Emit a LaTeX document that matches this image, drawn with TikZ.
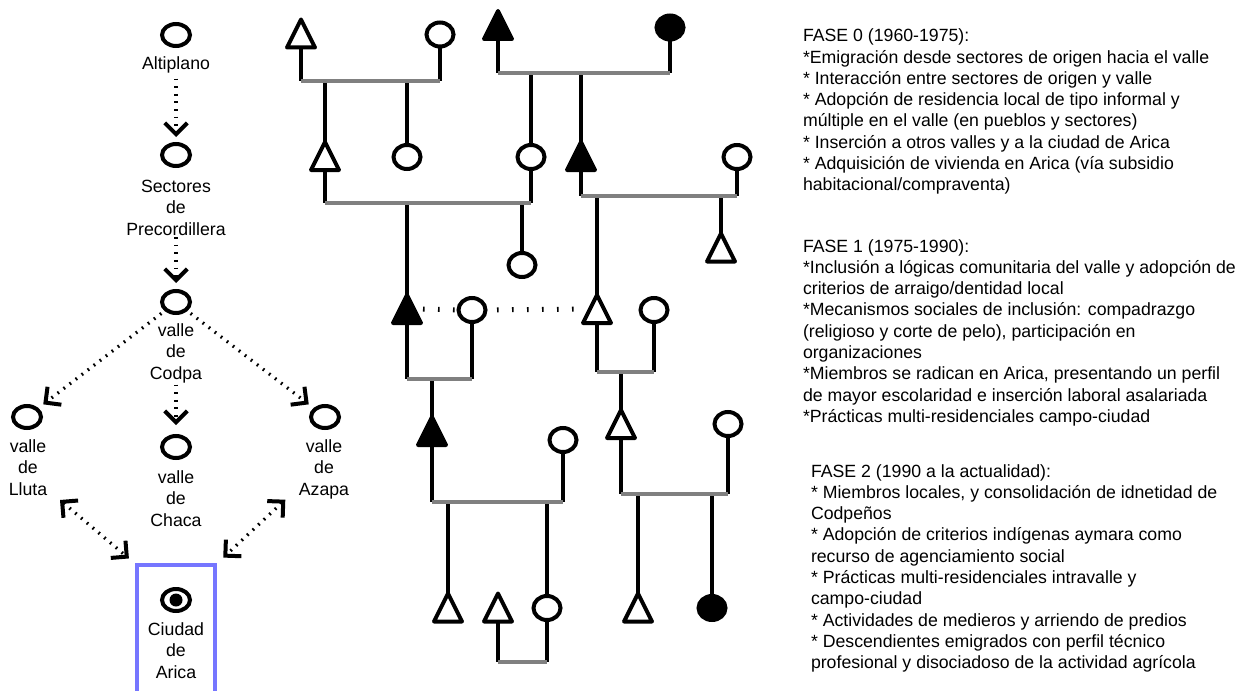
\documentclass[tikz,border=0pt]{standalone}
\usepackage{fontspec}
\setmainfont{Liberation Sans}
\usetikzlibrary{arrows.meta,shapes.geometric}
\definecolor{uniongray}{RGB}{128,128,128}
\definecolor{boxblue}{RGB}{118,118,255}
\begin{document}
\begin{tikzpicture}[x=1pt,y=-1pt,
  every node/.style={inner sep=0pt, outer sep=0pt},
  lbl/.style={font=\fontsize{17.7pt}{21.3pt}\selectfont, align=center},
  txt/.style={font=\fontsize{17.7pt}{21.3pt}\selectfont, align=left},
  place/.style={ellipse, draw, line width=4pt, minimum width=28pt, minimum height=22pt},
  chev/.tip={Straight Barb[angle=90:16pt, line width=4pt 0]},
  flow/.style={line width=3.3pt, dash pattern=on 1.7pt off 5.9pt},
  male/.style={rectangle, minimum width=28pt, minimum height=28pt},
  female/.style={ellipse, draw, fill=white, line width=4pt, minimum width=27pt, minimum height=24pt},
  dead/.style={female, fill=black},
  tri/.style={line width=4pt, line join=round},
  stem/.style={line width=4pt},
  union/.style={line width=3.3pt, draw=uniongray},
  kin/.style={line width=5pt, dash pattern=on 1.6pt off 13.4pt},
]
\useasboundingbox (0,0) rectangle (1246,690);
\clip (0,0) rectangle (1246,690);

% ---------------- places and movements ----------------
\node[place] (alti)  at (176,35)  {};
\node[place] (sect)  at (176,155) {};
\node[place] (codpa) at (176,302) {};
\node[place] (lluta) at (27,417)  {};
\node[place] (chaca) at (176,447) {};
\node[place] (azapa) at (325,417) {};

% multi-line labels are placed by the baseline of their last line
\node[lbl, anchor=base] (altiT)  at (176,70)  {Altiplano};
\node[lbl, anchor=base] (sectT)  at (176,235) {Sectores\\de\\Precordillera};
\node[lbl, anchor=base] (codpaT) at (176,379) {valle\\de\\Codpa};
\node[lbl, anchor=base] (llutaT) at (28,495)  {valle\\de\\Lluta};
\node[lbl, anchor=base] (chacaT) at (176,526) {valle\\de\\Chaca};
\node[lbl, anchor=base] (azapaT) at (324,495) {valle\\de\\Azapa};

% city of Arica, framed
\node[draw=boxblue, line width=4pt, minimum width=78pt, minimum height=140pt, anchor=north] (arica) at (176,565.3) {};
\node[place] (aricaC) at (176,600) {};
\node[circle, fill=black, minimum size=13pt] (aricaD) at (aricaC) {};
\node[lbl, anchor=base] (aricaT) at (176,678) {Ciudad\\de\\Arica};

\coordinate (llutaEnd) at (60,500);
\coordinate (azapaEnd) at (285.3,499.7);

\draw[flow, -chev, shorten <=5pt, shorten >=7pt]  (altiT) -- (sect);
\draw[flow, -chev, shorten <=2pt, shorten >=8pt]  (sectT) -- (codpa);
\draw[flow, -chev, shorten <=2pt, shorten >=11pt] (codpaT) -- (chaca);
\draw[flow, -chev, shorten <=6pt, shorten >=8pt]  (codpa.south west) -- (lluta.north east);
\draw[flow, -chev, shorten <=6pt, shorten >=8pt]  (codpa.south east) -- (azapa.north west);
\draw[flow, chev-chev, shorten >=10.6pt] (llutaEnd) -- (arica.north west);
\draw[flow, chev-chev, shorten >=11.3pt] (azapaEnd) -- (arica.north east);

% ---------------- kinship chart ----------------
% men (triangles drawn below), women (ellipses)
\node[male] (m1)  at (301,33.5)  {};
\node[male] (m2)  at (325,156)   {};
\node[male] (m3)  at (498,25)    {};
\node[male] (m4)  at (581,156)   {};
\node[male] (m5)  at (407,309)   {};
\node[male] (m6)  at (597,309)   {};
\node[male] (m7)  at (721,247.5) {};
\node[male] (m8)  at (432,431)   {};
\node[male] (m9)  at (621,424)   {};
\node[male] (m10) at (448,607.5) {};
\node[male] (m11) at (498,607.5) {};
\node[male] (m12) at (638,607.5) {};

\node[female] (f1)  at (440,34.5) {};
\node[female] (f2)  at (407,157)  {};
\node[dead]   (f3)  at (670,27.5) {};
\node[female] (f4)  at (531,157)  {};
\node[female] (f5)  at (737,157)  {};
\node[female] (f6)  at (522,265)  {};
\node[female] (f7)  at (472,310)  {};
\node[female] (f8)  at (654,310)  {};
\node[female] (f9)  at (563,440)  {};
\node[female] (f10) at (547,608)  {};
\node[female] (f11) at (728,424)  {};
\node[dead]   (f12) at (712,608)  {};

\foreach \m in {m1,m2,m6,m7,m9,m10,m11,m12}
  \draw[tri] (\m.south west) -- (\m.north) -- (\m.south east) -- cycle;
\foreach \m in {m3,m4,m5,m8}
  \filldraw[tri] (\m.south west) -- (\m.north) -- (\m.south east) -- cycle;

% heights of the union lines
\coordinate (u1) at (0,81);
\coordinate (u2) at (0,73);
\coordinate (u3) at (0,203);
\coordinate (u4) at (0,196);
\coordinate (u5) at (0,379);
\coordinate (u6) at (0,372);
\coordinate (u7) at (0,502);
\coordinate (u8) at (0,494);
\coordinate (u9) at (0,662);

% descent lines from each union to its children
\foreach \c/\u in {m2/u1,f2/u1,f4/u2,m4/u2,m5/u3,f6/u3,m6/u4,m7/u4,m8/u5,m9/u6,m10/u7,f10/u7,m12/u8,f12/u8}
  \draw[stem] (\c.north |- \u) -- (\c.north);

% spouses joined by a grey union line
\foreach \a/\b/\u in {m1/f1/u1,m3/f3/u2,m2/f4/u3,m4/f5/u4,m5/f7/u5,m6/f8/u6,m8/f9/u7,m9/f11/u8,m11/f10/u9}{
  \draw[stem] (\a.south) -- (\a.south |- \u);
  \draw[stem] (\b.south) -- (\b.south |- \u);
  \draw[union] (\a.south |- \u) -- (\b.south |- \u);
}

% dotted kin tie
\draw[kin, dash phase=13pt] (m5.east) -- (f7.west);
\draw[kin, dash phase=3.5pt] (f7.east) -- (m6.west);

% ---------------- phases ----------------
\node[txt, anchor=base west] (fase0) at (803,190.8) {FASE 0 (1960-1975):\\
*Emigración desde sectores de origen hacia el valle\\
* Interacción entre sectores de origen y valle\\
* Adopción de residencia local de tipo informal y\\
múltiple en el valle (en pueblos y sectores)\\
* Inserción a otros valles y a la ciudad de Arica\\
* Adquisición de vivienda en Arica (vía subsidio\\
habitacional/compraventa)};

\node[txt, anchor=base west] (fase1) at (803,422.4) {FASE 1 (1975-1990):\\
*Inclusión a lógicas comunitaria del valle y adopción de\\
criterios de arraigo/dentidad local\\
*Mecanismos sociales de inclusión: compadrazgo\\
(religioso y corte de pelo), participación en\\
organizaciones\\
*Miembros se radican en Arica, presentando un perfil\\
de mayor escolaridad e inserción laboral asalariada\\
*Prácticas multi-residenciales campo-ciudad};

\node[txt, anchor=base west] (fase2) at (811,668.7) {FASE 2 (1990 a la actualidad):\\
* Miembros locales, y consolidación de idnetidad de\\
Codpeños\\
* Adopción de criterios indígenas aymara como\\
recurso de agenciamiento social\\
* Prácticas multi-residenciales intravalle y\\
campo-ciudad\\
* Actividades de medieros y arriendo de predios\\
* Descendientes emigrados con perfil técnico\\
profesional y disociadoso de la actividad agrícola};
\end{tikzpicture}
\end{document}
